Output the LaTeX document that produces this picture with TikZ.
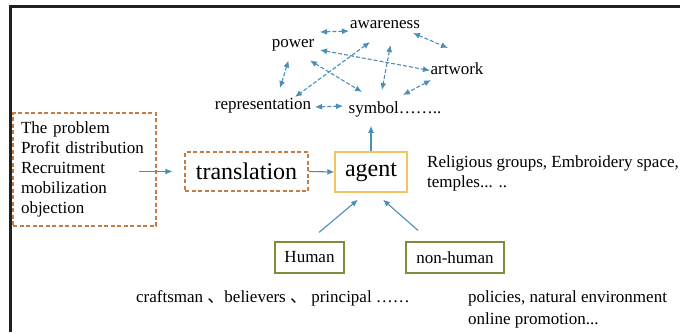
\documentclass[tikz,border=0pt]{standalone}
\usepackage{fontspec}
\setmainfont{Liberation Serif}
\newfontfamily\cjkfont{Noto Sans CJK SC}
\usetikzlibrary{arrows.meta}
\definecolor{arrowblue}{RGB}{74,143,186}
\definecolor{dashbrown}{RGB}{196,125,70}
\definecolor{agentyellow}{RGB}{247,196,96}
\definecolor{olivebox}{RGB}{128,140,60}
\definecolor{framecol}{RGB}{35,31,32}
\begin{document}
\begin{tikzpicture}[x=1pt,y=-1pt,
  lbl/.style={inner sep=0pt, font=\fontsize{17}{20}\selectfont},
  big/.style={font=\fontsize{24}{28}\selectfont},
  dbl/.style={draw=arrowblue, line width=1.1pt, dash pattern=on 4pt off 2pt,
     {Latex[length=7pt,width=6pt]}-{Latex[length=7pt,width=6pt]}},
  sol/.style={draw=arrowblue, line width=1.1pt, -{Latex[length=7pt,width=6pt]}},
  dbox/.style={draw=dashbrown, line width=1.1pt, dash pattern=on 4pt off 2.5pt},
  gbox/.style={draw=olivebox, line width=1.2pt, inner sep=0pt, font=\fontsize{17}{20}\selectfont}
]
\useasboundingbox (0,0) rectangle (680,332);
\draw[framecol, line width=2.2pt] (10.5,332) -- (10.5,6.5) -- (680,6.5);

% top cluster
\node[lbl, anchor=base] (awareness) at (385,28) {awareness};
\node[lbl, anchor=base] (power) at (293,47) {power};
\node[lbl, anchor=base] (artwork) at (457,74) {artwork};
\node[lbl, anchor=base] (repr) at (263,109) {representation};
\node[lbl, anchor=base] (symbol) at (395,113) {symbol……..};

\draw[dbl] ([shift={(27pt,15pt)}]power.base) -- ([shift={(-36pt,-3pt)}]awareness.base);
\draw[dbl] ([shift={(28pt,-5pt)}]awareness.base) -- ([shift={(-9pt,26pt)}]artwork.base);
\draw[dbl] ([shift={(27pt,-3pt)}]power.base) -- ([shift={(-27pt,3.5pt)}]artwork.base);
\draw[dbl] ([shift={(-15pt,-14pt)}]awareness.base) -- ([shift={(32pt,12pt)}]repr.base);
\draw[dbl] ([shift={(17pt,-13.5pt)}]power.base) -- ([shift={(-33pt,21pt)}]symbol.base);
\draw[dbl] ([shift={(5.5pt,-17pt)}]awareness.base) -- ([shift={(-13pt,23pt)}]symbol.base);
\draw[dbl] ([shift={(-4.5pt,-13.5pt)}]power.base) -- ([shift={(17pt,21pt)}]repr.base);
\draw[dbl] ([shift={(52pt,2pt)}]repr.base) -- ([shift={(-52pt,7pt)}]symbol.base);
\draw[dbl] ([shift={(-26pt,-6pt)}]artwork.base) -- ([shift={(8pt,18pt)}]symbol.base);

% middle row
\node[dbox, minimum width=143pt, minimum height=113pt, text width=127pt, inner xsep=8pt,
      align=left, font=\fontsize{17}{20}\selectfont] (problems) at (84.5,169.5)
      {The problem\\Profit distribution\\Recruitment\\mobilization\\objection};
\node[dbox, big, minimum width=123pt, minimum height=39pt, inner sep=0pt] (translation) at (246.5,171.5) {translation};
\node[draw=agentyellow, line width=1.3pt, big, minimum width=72pt, minimum height=40pt, inner sep=0pt] (agent) at (371,172) {agent};

\draw[sol] ([xshift=-45pt]translation.west) -- ([xshift=-12pt]translation.west);
\draw[sol] (translation.east) -- (agent.west);
\draw[sol, shorten >=9pt] (agent.north) -- (agent.north |- symbol.south);

\node[lbl, anchor=base west] (rel1) at (427,167) {Religious groups, Embroidery space,};
\node[lbl, anchor=base west] (rel2) at (427,187) {temples... ..};

% bottom row
\node[gbox, minimum width=69pt, minimum height=31pt] (human) at (309.5,257.5) {Human};
\node[gbox, minimum width=98pt, minimum height=31pt] (nonhuman) at (455,257.5) {non-human};

\draw[sol] ([shift={(9.5pt,9pt)}]human.north) -- ([shift={(-13pt,-7pt)}]agent.south);
\draw[sol] ([shift={(-37pt,11pt)}]nonhuman.north) -- ([shift={(12pt,-7pt)}]agent.south);

\node[lbl, anchor=base west] (humtext) at (136,302) {craftsman {\cjkfont 、}believers {\cjkfont 、} principal ……};
\node[lbl, anchor=base west] (pol1) at (468,302) {policies, natural environment};
\node[lbl, anchor=base west] (pol2) at (468,324) {online promotion...};
\end{tikzpicture}
\end{document}
